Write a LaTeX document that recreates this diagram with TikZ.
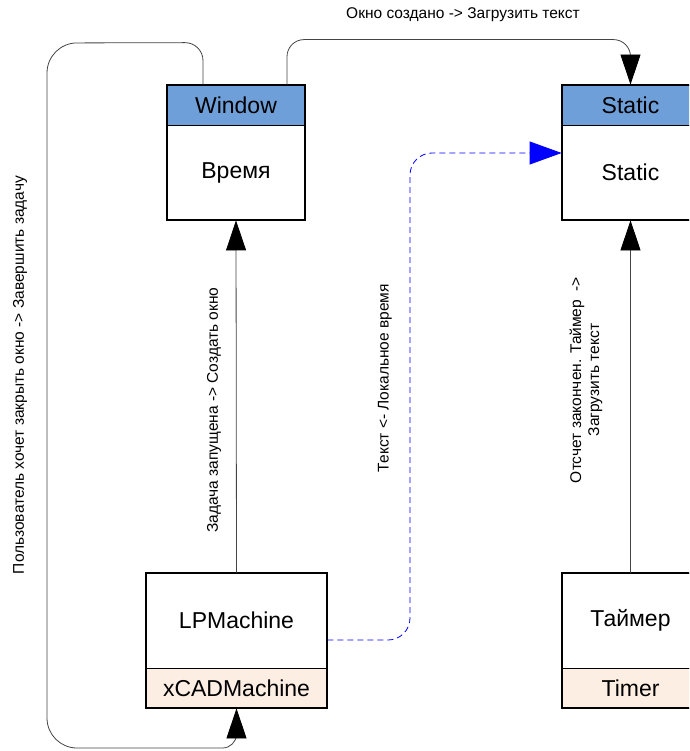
\documentclass[tikz,border=0pt]{standalone}
\usepackage{fontspec}
\setmainfont{Liberation Sans}
\usetikzlibrary{arrows.meta}
\definecolor{hdrblue}{HTML}{6F9FD8}
\definecolor{footpeach}{HTML}{FDEEE3}
\definecolor{wire}{HTML}{444444}
\begin{document}
\begin{tikzpicture}[x=1pt,y=-1pt,
  boxfont/.style={font=\fontsize{23}{27}\selectfont},
  hdr/.style={boxfont, draw=black, line width=0.8pt, fill=hdrblue, minimum width=#1, minimum height=40pt, inner sep=0pt},
  body/.style={boxfont, draw=black, line width=0.8pt, fill=white, minimum width=#1, minimum height=95pt, inner sep=0pt},
  foot/.style={boxfont, draw=black, line width=0.8pt, fill=footpeach, minimum width=#1, minimum height=40pt, inner sep=0pt},
  frame/.style={draw=black, line width=2pt},
  tip/.style={-{Triangle[length=30pt,width=20pt,color=black,fill=black]}},
  wire/.style={draw=wire, line width=0.8pt, tip},
  dashwire/.style={draw=blue, line width=0.8pt, dash pattern=on 6pt off 4pt,
    -{Triangle[length=32pt,width=23pt,color=blue,fill=blue]}},
  lbl/.style={font=\fontsize{15.5}{18}\selectfont, inner sep=0pt}]
\useasboundingbox (0,0) rectangle (689,751);
\clip (0,0) rectangle (689,751);

% Window class
\node[hdr=137pt] (winH) at (236,105) {Window};
\node[body=137pt] (winB) at (236,172.5) {Время};
\draw[frame] (winH.north west) rectangle (winB.south east);

% Static class
\node[hdr=137pt] (stH) at (630.5,105) {Static};
\node[body=137pt] (stB) at (630.5,172.5) {Static};
\draw[frame] (stH.north west) rectangle (stB.south east);

% LPMachine / xCADMachine
\node[body=181pt] (lpB) at (236.5,620.5) {LPMachine};
\node[foot=181pt] (lpF) at (236.5,688) {xCADMachine};
\draw[frame] (lpB.north west) rectangle (lpF.south east);

% Timer
\node[body=137pt] (tmB) at (630.5,620.5) {Таймер};
\node[foot=137pt] (tmF) at (630.5,688) {Timer};
\draw[frame] (tmB.north west) rectangle (tmF.south east);

% transitions
\draw[wire] (lpB.north) -- (winB.south);
\draw[wire] (tmB.north) -- (stB.south);
\draw[wire, rounded corners=17pt] ([xshift=51pt]winH.north) -- ++(0,-45) -| (stH.north);
\draw[wire] ([xshift=-33pt]winH.north) [rounded corners=18pt] -- ++(0,-42)
  [rounded corners=30pt] -- (47,43) -- (47,748)
  [rounded corners=14pt] -- (lpF.south |- 0,748) -- (lpF.south);
\draw[dashwire, rounded corners=22pt] (lpB.east |- 0,640) -| (410,153) -- (stB.west |- 0,153);

% transition labels
\node[lbl] (tTop) at (463,15) {Окно создано -> Загрузить текст};
\node[lbl, rotate=90] (tLeft) at (20,375) {Пользователь хочет закрыть окно -> Завершить задачу};
\node[lbl, rotate=90] (tStart) at (214,410) {Задача запущена -> Создать окно};
\node[lbl, rotate=90] (tTime) at (385,378) {Текст <- Локальное время};
\node[lbl, rotate=90, align=center] (tTimer) at (586,380) {Отсчет закончен. Таймер~ ->\\Загрузить текст};
\end{tikzpicture}
\end{document}
